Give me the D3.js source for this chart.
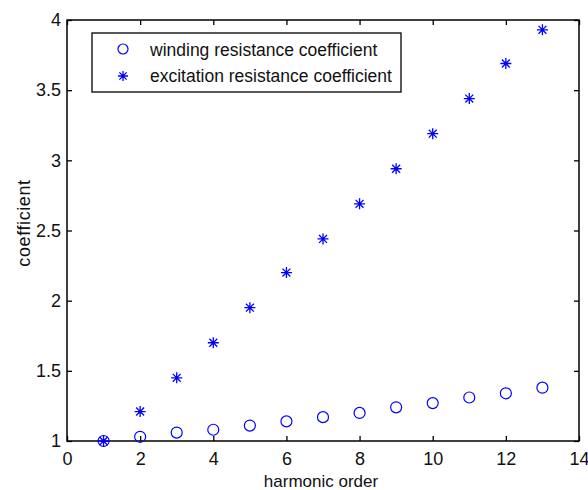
<!DOCTYPE html>
<html>
<head>
<meta charset="utf-8">
<script src="https://cdn.jsdelivr.net/npm/d3@7"></script>
<style>
  html, body { margin: 0; padding: 0; background: #fff; }
  svg { display: block; font-family: "Liberation Sans", Arial, sans-serif; }
</style>
</head>
<body>
<svg id="chart" width="588" height="490"></svg>
<script>
// Harmonic orders and the two resistance coefficients
const harmonicOrder = [1, 2, 3, 4, 5, 6, 7, 8, 9, 10, 11, 12, 13];
const windingCoef = [1.00, 1.03, 1.06, 1.08, 1.11, 1.14, 1.17, 1.20, 1.24, 1.27, 1.31, 1.34, 1.38];
const excitationCoef = [1.00, 1.21, 1.45, 1.70, 1.95, 2.20, 2.44, 2.69, 2.94, 3.19, 3.44, 3.69, 3.93];
const xTicks = [0, 2, 4, 6, 8, 10, 12, 14];
const yTicks = [1, 1.5, 2, 2.5, 3, 3.5, 4];
const legendLabels = ["winding resistance coefficient", "excitation resistance coefficient"];

const svg = d3.select("#chart");
const plotLeft = 67, plotRight = 579, plotTop = 20, plotBottom = 441;
const blue = "#0000ff";

const x = d3.scaleLinear().domain([0, 14]).range([plotLeft, plotRight]);
const y = d3.scaleLinear().domain([1, 4]).range([plotBottom, plotTop]);

// Axes with inward ticks, MATLAB-style box
const tickLen = 5;
const axisFont = "18px";

const xAxis = svg.append("g").attr("transform", `translate(0,${plotBottom})`)
  .call(d3.axisBottom(x).tickValues(xTicks).tickSizeInner(-tickLen).tickSizeOuter(0).tickPadding(11).tickFormat(d3.format("d")));
const xAxisTop = svg.append("g").attr("transform", `translate(0,${plotTop})`)
  .call(d3.axisTop(x).tickValues(xTicks).tickSizeInner(-tickLen).tickSizeOuter(0).tickFormat(""));
const yAxis = svg.append("g").attr("transform", `translate(${plotLeft},0)`)
  .call(d3.axisLeft(y).tickValues(yTicks).tickSizeInner(-tickLen).tickSizeOuter(0).tickPadding(6).tickFormat(d => String(d)));
const yAxisRight = svg.append("g").attr("transform", `translate(${plotRight},0)`)
  .call(d3.axisRight(y).tickValues(yTicks).tickSizeInner(-tickLen).tickSizeOuter(0).tickFormat(""));

[xAxis, xAxisTop, yAxis, yAxisRight].forEach(g => {
  g.select(".domain").remove();
  g.selectAll(".tick line").attr("stroke", "#000").attr("stroke-width", 1.3);
  g.selectAll("text").attr("fill", "#111").style("font-size", axisFont)
    .style("font-family", '"Liberation Sans", Arial, sans-serif');
});

svg.append("rect")
  .attr("x", plotLeft).attr("y", plotTop)
  .attr("width", plotRight - plotLeft).attr("height", plotBottom - plotTop)
  .attr("fill", "none").attr("stroke", "#000").attr("stroke-width", 1.5);

// Axis titles
svg.append("text")
  .attr("x", 321).attr("y", 487)
  .attr("text-anchor", "middle").style("font-size", "17px").attr("fill", "#111")
  .text("harmonic order");
svg.append("text")
  .attr("transform", "translate(30,223) rotate(-90)")
  .attr("text-anchor", "middle").style("font-size", "18px").attr("fill", "#111")
  .style("letter-spacing", "0.6px")
  .text("coefficient");

// Star marker path: plus plus x, MATLAB '*'
function starPath(r) {
  const d = r * 0.72;
  return `M${-r},0L${r},0M0,${-r}L0,${r}M${-d},${-d}L${d},${d}M${-d},${d}L${d},${-d}`;
}

const plot = svg.append("g");

plot.selectAll("circle.w")
  .data(harmonicOrder.map((h, i) => [h, windingCoef[i]]))
  .join("circle")
  .attr("class", "w")
  .attr("cx", d => x(d[0])).attr("cy", d => y(d[1]))
  .attr("r", 5.5)
  .attr("fill", "none").attr("stroke", blue).attr("stroke-width", 1.2);

plot.selectAll("path.e")
  .data(harmonicOrder.map((h, i) => [h, excitationCoef[i]]))
  .join("path")
  .attr("class", "e")
  .attr("transform", d => `translate(${x(d[0])},${y(d[1])})`)
  .attr("d", starPath(5.5))
  .attr("fill", "none").attr("stroke", blue).attr("stroke-width", 1.3);

// Legend
const legend = svg.append("g");
legend.append("rect")
  .attr("x", 92).attr("y", 33).attr("width", 309).attr("height", 59)
  .attr("fill", "#fff").attr("stroke", "#000").attr("stroke-width", 1.3);
legend.append("circle")
  .attr("cx", 123).attr("cy", 49).attr("r", 5)
  .attr("fill", "none").attr("stroke", blue).attr("stroke-width", 1.2);
legend.append("path")
  .attr("transform", "translate(123,76)")
  .attr("d", starPath(5))
  .attr("fill", "none").attr("stroke", blue).attr("stroke-width", 1.3);
legend.selectAll("text")
  .data(legendLabels)
  .join("text")
  .attr("x", 150).attr("y", (d, i) => 56 + i * 26)
  .style("font-size", "17.5px").attr("fill", "#111")
  .text(d => d);
</script>
</body>
</html>
